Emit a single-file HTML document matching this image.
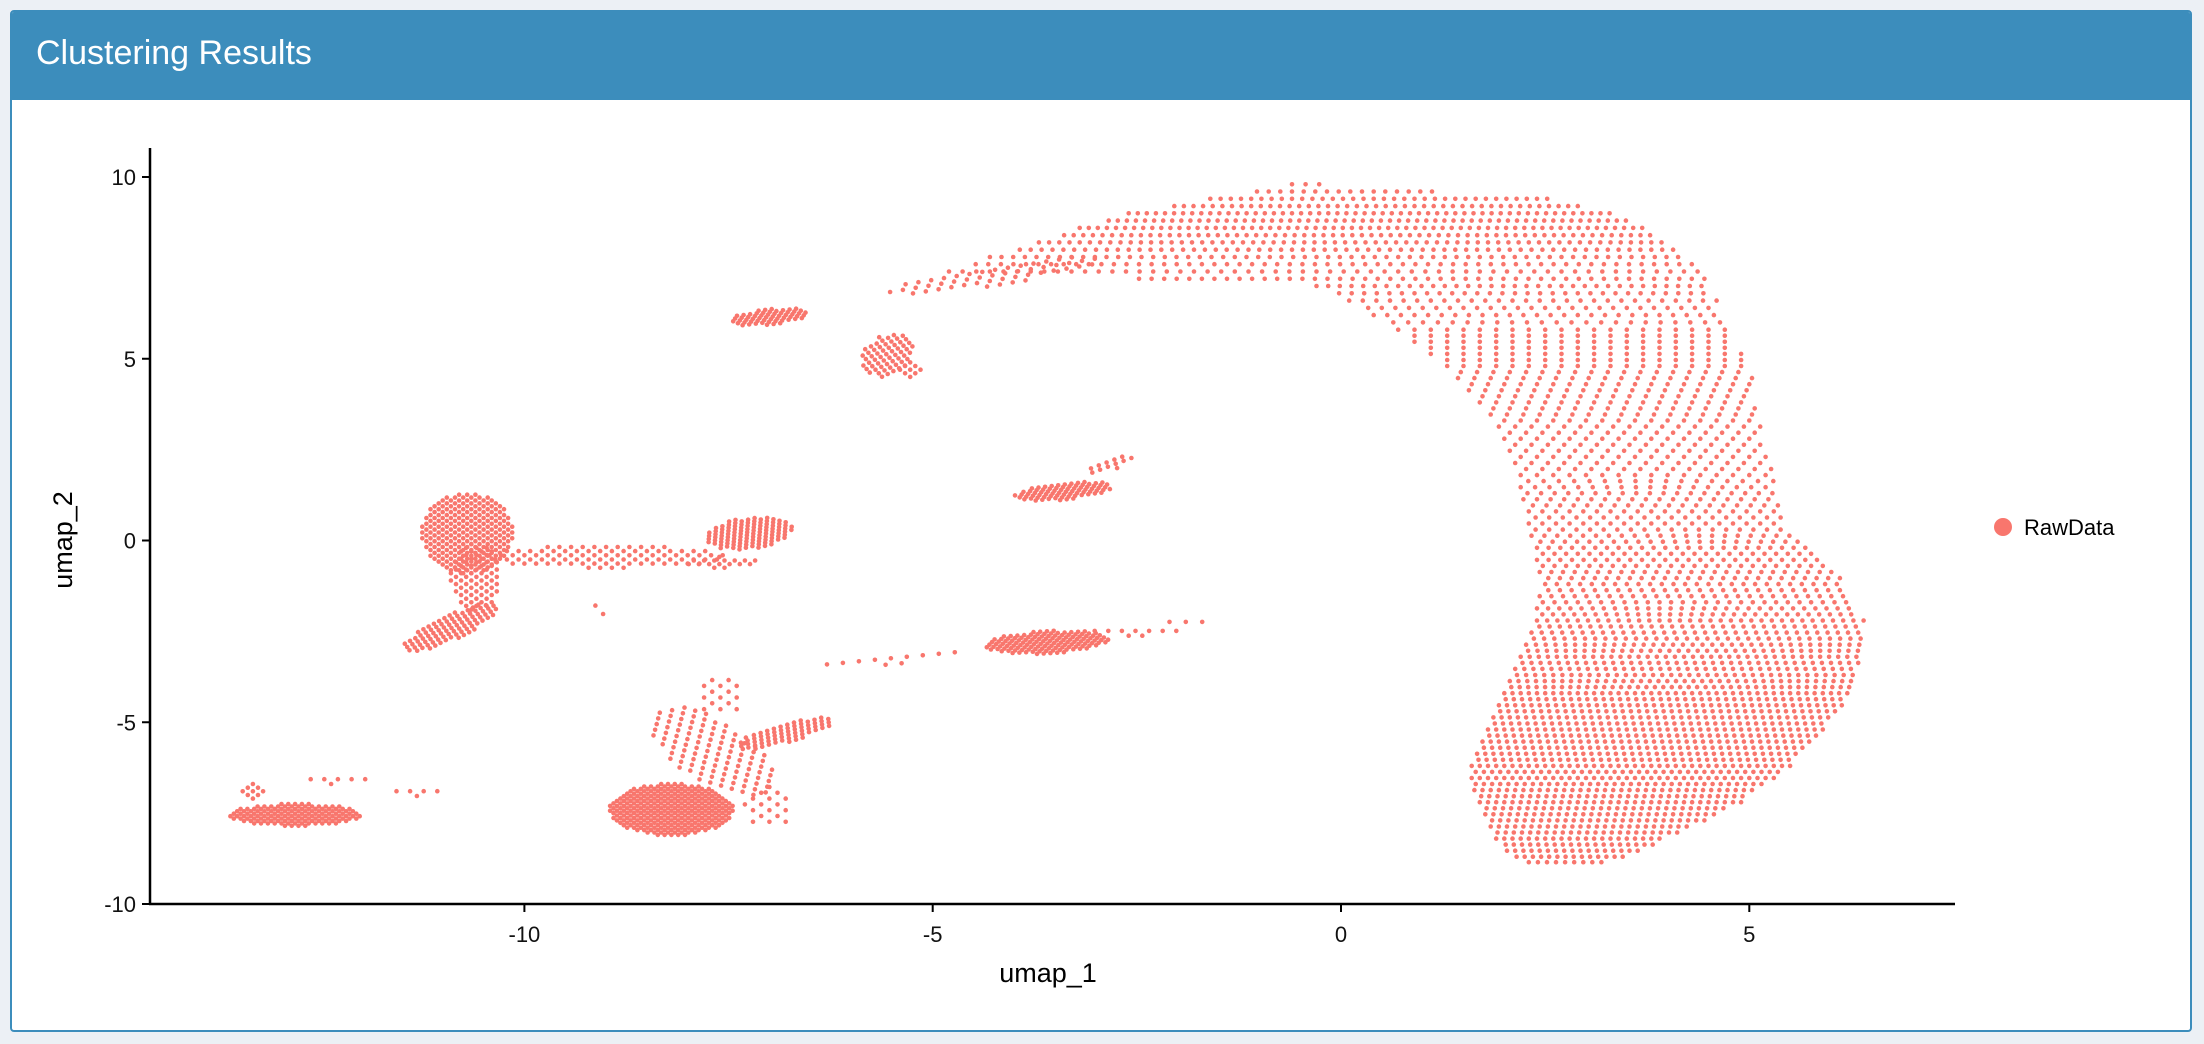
<!DOCTYPE html>
<html><head><meta charset="utf-8">
<style>
html,body{margin:0;padding:0;background:#ecf0f5;width:2204px;height:1044px;overflow:hidden;font-family:"Liberation Sans",sans-serif;}
#panel{position:absolute;left:10px;top:10px;width:2182px;height:1022px;border:2px solid #3c8dbc;border-radius:4px;background:#fff;box-sizing:border-box;overflow:hidden;}
#hdr{position:absolute;left:0;top:0;right:0;height:88px;background:#3c8dbc;}
#hdr span{position:absolute;left:24px;top:22px;color:#fff;font-size:34px;font-family:"Liberation Sans",sans-serif;}
svg{position:absolute;left:0;top:0;}
</style></head><body>
<div id="panel">
<div id="hdr"><span>Clustering Results</span></div>
</div>
<svg id="chart" width="2204" height="1044"></svg>
<script>
// Main blob edges (data coordinates)
const rowY =    [9.8,9.4,9.0,8.6,8.2,7.8,7.4,7.0,6.6,6.2,5.8,5.3,4.8,4.3,3.8,3.3,2.8,2.3,1.8,1.3,0.8,0.3,-0.2,-0.7,-1.2,-1.7,-2.2,-2.7,-3.2,-3.7,-4.2,-4.7,-5.2,-5.7,-6.2,-6.7,-7.2,-7.7,-8.2,-8.7,-9.0];
const rowLeft = [-0.6,-1.6,-2.6,-3.2,-3.7,-4.3,-4.8,-0.3,0.1,0.4,0.7,1.0,1.3,1.5,1.7,1.9,2.0,2.1,2.2,2.2,2.3,2.3,2.4,2.4,2.5,2.4,2.4,2.3,2.2,2.1,2.0,1.9,1.8,1.7,1.6,1.6,1.7,1.8,1.9,2.1,2.5];
const rowRight= [-0.2,2.6,3.3,3.7,4.0,4.2,4.4,4.5,4.6,4.7,4.8,4.9,5.0,5.1,5.1,5.2,5.2,5.3,5.3,5.3,5.4,5.5,5.7,6.0,6.2,6.3,6.4,6.4,6.4,6.3,6.2,6.1,5.9,5.7,5.5,5.2,4.9,4.5,4.0,3.5,3.1];
const rowDens = [6,8,9,9,8,7,6,7,6,6,5,5,5,5,5,5,5,5,5,6,6,6,7,7,7,7,8,8,9,9,10,10,10,10,10,10,10,10,10,10,8];
// Small clusters: centre x, centre y, radius x, radius y, angle (deg), density
const clX =   [-4.2,-7.0,-5.55,-5.25,-3.4,-2.8,-10.7,-10.9,-9.0,-7.25,-7.6,-3.6,-5.5,-2.5,-1.9,-8.2,-7.7,-6.8,-7.0,-7.6,-12.8,-13.3,-12.3,-11.3,-9.0,-10.6];
const clY =   [7.3,6.15,5.1,4.7,1.35,2.1,0.2,-2.4,-0.45,0.2,-0.6,-2.8,-3.3,-2.5,-2.3,-7.4,-5.8,-5.3,-7.3,-4.3,-7.55,-6.9,-6.6,-6.95,-1.9,-1.0];
const clRX =  [1.4,0.5,0.3,0.15,0.6,0.4,0.55,0.85,1.5,0.55,0.45,0.75,1.1,0.6,0.3,0.75,0.55,0.7,0.3,0.3,0.8,0.15,0.4,0.35,0.9,0.3];
const clRY =  [0.25,0.2,0.6,0.2,0.22,0.12,1.1,0.25,0.3,0.4,0.15,0.3,0.1,0.12,0.1,0.7,1.3,0.22,0.6,0.5,0.3,0.2,0.1,0.08,0.08,0.9];
const clAng = [20,15,-10,0,15,40,0,50,0,30,0,8,12,0,0,0,25,35,0,0,0,0,0,0,-68,0];
const clDen = [6,12,9,8,12,8,10,10,7,11,8,12,5,6,5,12,6,10,5,5,12,8,6,6,4,8];
const xTicks = [-10,-5,0,5];
const yTicks = [-10,-5,0,5,10];

const X = v => 1341 + v*81.66;
const Y = v => 540.5 - v*36.35;
const NS = "http://www.w3.org/2000/svg";
const svg = document.getElementById('chart');
function mk(tag, attrs){const e=document.createElementNS(NS,tag);for(const k in attrs)e.setAttribute(k,attrs[k]);svg.appendChild(e);return e;}

const pts = document.createElementNS(NS,'g');


pts.setAttribute('fill','#f8766d');
svg.appendChild(pts);
function dot(x,y){
  const c=document.createElementNS(NS,'circle');
  c.setAttribute('cx',X(x).toFixed(1));c.setAttribute('cy',Y(y).toFixed(1));c.setAttribute('r','2.3');
  
  
  pts.appendChild(c);
}
// main blob
let sub=0;
for(let i=0;i<rowY.length-1;i++){
  const y0=rowY[i],y1=rowY[i+1];
  const n=Math.max(1,Math.round((y0-y1)/0.18));
  for(let k=0;k<n;k++){
    const t=k/n, y=y0+(y1-y0)*t;
    const l=rowLeft[i]+(rowLeft[i+1]-rowLeft[i])*t;
    const r=rowRight[i]+(rowRight[i+1]-rowRight[i])*t;
    const d=rowDens[i]+(rowDens[i+1]-rowDens[i])*t;
    const st=1/d, off=(sub%2)*st/2; sub++;
    for(let x=l+off;x<=r;x+=st) dot(x,y);
  }
}
// clusters
for(let i=0;i<clX.length;i++){
  const st=1/clDen[i], a=clAng[i]*Math.PI/180;
  let row=0;
  for(let v=-clRY[i];v<=clRY[i]+1e-9;v+=st*0.8){
    const off=(row%2)*st/2; row++;
    for(let u=-clRX[i]+off;u<=clRX[i];u+=st){
      if((u/clRX[i])**2+(v/clRY[i])**2>1.05) continue;
      dot(clX[i]+u*Math.cos(a)-v*Math.sin(a), clY[i]+u*Math.sin(a)+v*Math.cos(a));
    }
  }
}
// axes
mk('line',{x1:150,y1:148,x2:150,y2:905,stroke:'#000','stroke-width':2.5,});
mk('line',{x1:149,y1:904,x2:1955,y2:904,stroke:'#000','stroke-width':2.5,});
xTicks.forEach(v=>{
  mk('line',{x1:X(v),y1:904,x2:X(v),y2:912,stroke:'#000','stroke-width':2,});
  const t=mk('text',{x:X(v),y:942,'text-anchor':'middle','font-size':22,fill:'#111','font-family':'Liberation Sans, sans-serif',});
  t.textContent=v;
});
yTicks.forEach(v=>{
  mk('line',{x1:142,y1:Y(v),x2:150,y2:Y(v),stroke:'#000','stroke-width':2,});
  const t=mk('text',{x:136,y:Y(v)+8,'text-anchor':'end','font-size':22,fill:'#111','font-family':'Liberation Sans, sans-serif',});
  t.textContent=v;
});
const xt=mk('text',{x:1048,y:982,'text-anchor':'middle','font-size':27,fill:'#000','font-family':'Liberation Sans, sans-serif',});
xt.textContent='umap_1';
const yt=mk('text',{x:0,y:0,'text-anchor':'middle','font-size':27,fill:'#000','font-family':'Liberation Sans, sans-serif',transform:'translate(72,540) rotate(-90)',});
yt.textContent='umap_2';
mk('circle',{cx:2003,cy:527,r:9,fill:'#f8766d',});
const lt=mk('text',{x:2024,y:535,'font-size':22,fill:'#000','font-family':'Liberation Sans, sans-serif',});
lt.textContent='RawData';
</script>
</body></html>
